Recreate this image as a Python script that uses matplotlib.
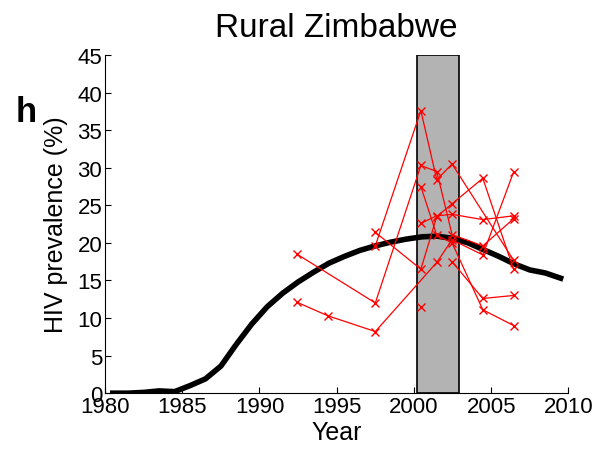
import numpy as np
import matplotlib.pyplot as plt

plt.rcParams['font.family'] = ['Liberation Sans', 'DejaVu Sans']

# modelled prevalence curve
model_years = [1980.5, 1981.5, 1982.5, 1983.5, 1984.5, 1985.5, 1986.5, 1987.5, 1988.5, 1989.5,
               1990.5, 1991.5, 1992.5, 1993.5, 1994.5, 1995.5, 1996.5, 1997.5, 1998.5, 1999.5,
               2000.5, 2001.5, 2002.5, 2003.5, 2004.5, 2005.5, 2006.5, 2007.5, 2008.5, 2009.5]
model_prev = [0.0, 0.0, 0.1, 0.3, 0.2, 1.0, 1.9, 3.6, 6.5, 9.2,
              11.5, 13.3, 14.8, 16.1, 17.3, 18.2, 19.0, 19.6, 20.1, 20.5,
              20.8, 20.9, 20.6, 20.0, 19.1, 18.2, 17.2, 16.4, 16.0, 15.3]

# antenatal clinic survey sites (year, prevalence)
site_years = [
    [1992.43, 1997.5, 2000.45, 2001.48, 2002.47, 2004.46, 2006.45],
    [1992.43, 1994.42, 1997.5, 2001.48, 2002.47, 2004.46, 2006.45],
    [1997.5, 2000.45, 2001.48, 2002.47, 2006.45],
    [1997.5, 2000.45, 2001.48, 2002.47, 2004.46, 2006.45],
    [2000.45, 2001.48, 2002.47, 2004.46, 2006.45],
    [2000.45, 2001.48, 2002.47, 2004.46, 2006.45],
    [2002.47, 2004.46, 2006.45],
    [2000.45],
]
site_prev = [
    [18.5, 12.0, 30.3, 29.5, 21.1, 19.6, 23.2],
    [12.1, 10.3, 8.2, 17.4, 20.4, 18.4, 29.4],
    [19.6, 37.6, 28.4, 30.5, 17.7],
    [21.4, 16.5, 23.5, 25.2, 28.6, 16.5],
    [27.5, 21.0, 20.0, 11.1, 9.0],
    [22.6, 23.6, 23.8, 23.1, 23.6],
    [17.5, 12.6, 13.0],
    [11.4],
]

band = (2000.2, 2002.9)

fig = plt.figure(figsize=(5.97, 4.52), dpi=100)
ax = fig.add_axes([0.176, 0.128, 0.776, 0.748])

ax.axvspan(band[0], band[1], facecolor='#b3b3b3', edgecolor='black', linewidth=1.2, zorder=1)
ax.plot(model_years, model_prev, color='black', linewidth=4, zorder=2)
for yrs, vals in zip(site_years, site_prev):
    ax.plot(yrs, vals, color='red', linewidth=0.9, marker='x', markersize=6,
            markeredgewidth=1.0, zorder=3)

ax.set_xlim(1980, 2010)
ax.set_ylim(0, 45)
ax.set_xticks(np.arange(1980, 2011, 5))
ax.set_yticks(np.arange(0, 46, 5))
ax.spines['top'].set_visible(False)
ax.spines['right'].set_visible(False)
ax.tick_params(direction='in', length=4, labelsize=16, pad=2)

ax.set_xlabel('Year', fontsize=18, labelpad=2)
ax.set_ylabel('HIV prevalence (%)', fontsize=18, labelpad=7)
ax.set_title('Rural Zimbabwe', fontsize=24, pad=14)
fig.text(0.027, 0.73, 'h', fontsize=25, fontweight='bold')

fig.savefig('out.png', dpi=100)
